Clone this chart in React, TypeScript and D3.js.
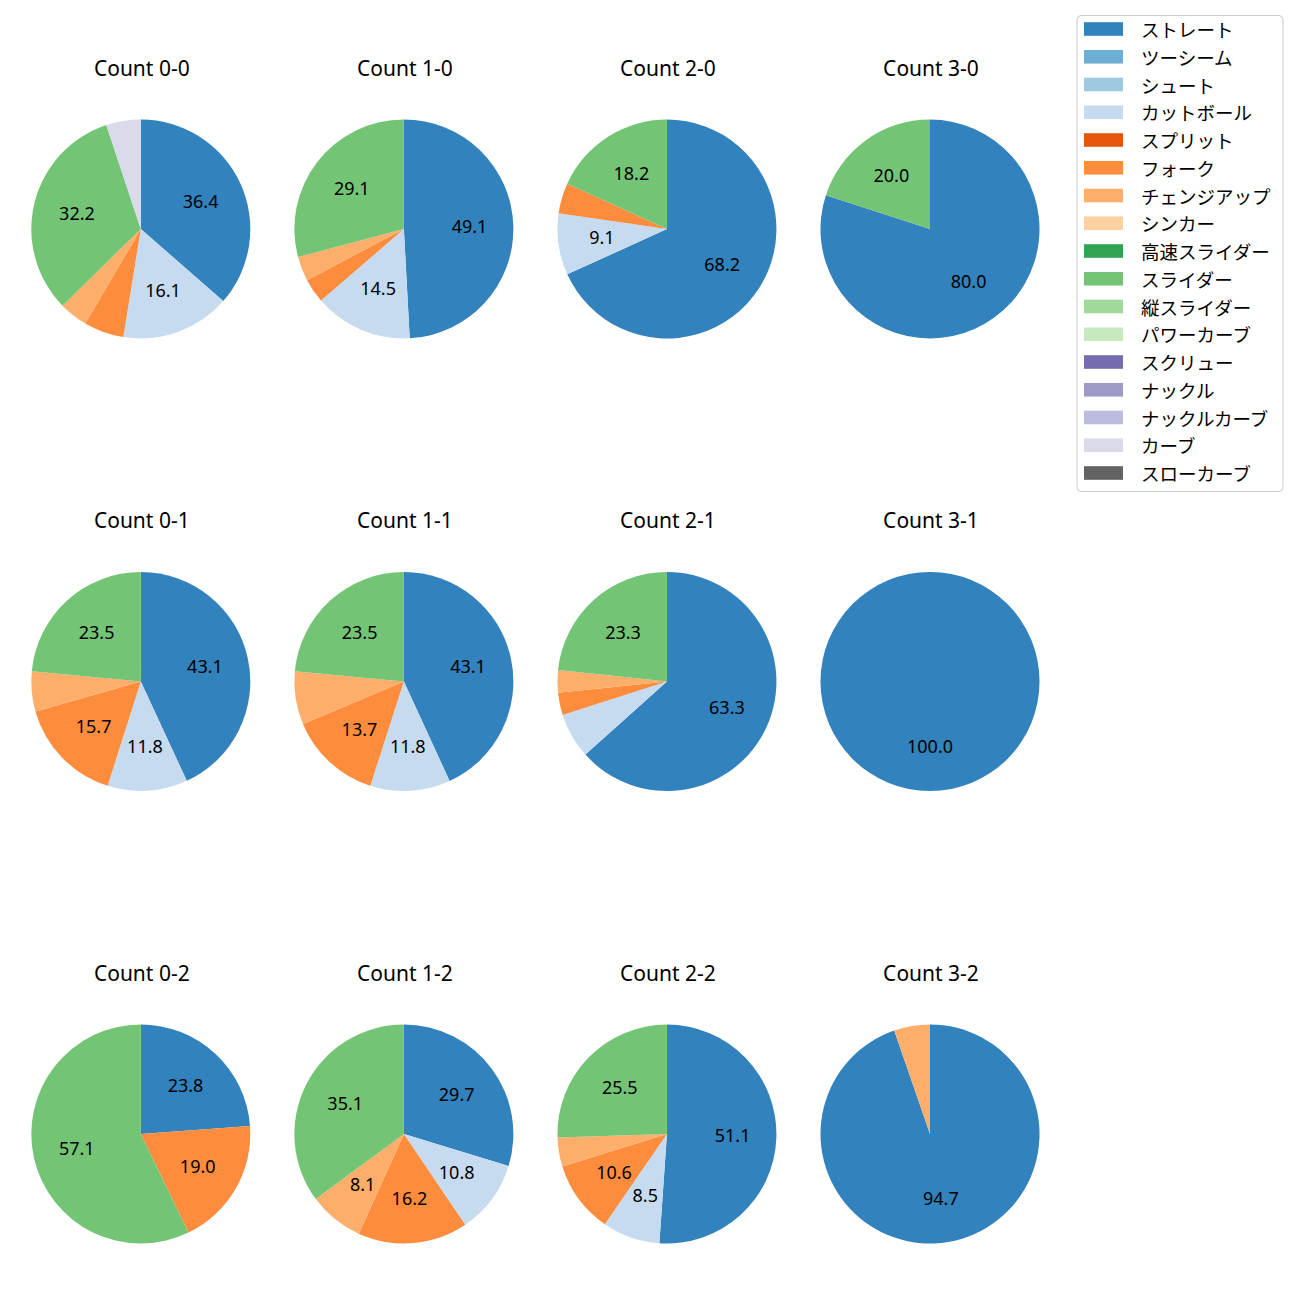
import React from "react";
import * as d3 from "d3";

const pitchTypes = [
  "ストレート", "ツーシーム", "シュート", "カットボール", "スプリット", "フォーク",
  "チェンジアップ", "シンカー", "高速スライダー", "スライダー", "縦スライダー",
  "パワーカーブ", "スクリュー", "ナックル", "ナックルカーブ", "カーブ", "スローカーブ",
];
const pitchColors = [
  "#3182bd", "#6baed6", "#9ecae1", "#c6dbef", "#e6550d", "#fd8d3c",
  "#fdae6b", "#fdd0a2", "#31a354", "#74c476", "#a1d99b",
  "#c7e9c0", "#756bb1", "#9e9ac8", "#bcbddc", "#dadaeb", "#636363",
];

const countLabels = [
  "Count 0-0", "Count 1-0", "Count 2-0", "Count 3-0",
  "Count 0-1", "Count 1-1", "Count 2-1", "Count 3-1",
  "Count 0-2", "Count 1-2", "Count 2-2", "Count 3-2",
];

// percentage per count (same order as countLabels)
const straight = [36.4, 49.1, 68.2, 80.0, 43.1, 43.1, 63.3, 100.0, 23.8, 29.7, 51.1, 94.7];
const cutter = [16.1, 14.5, 9.1, 0, 11.8, 11.8, 6.7, 0, 0, 10.8, 8.5, 0];
const forkball = [5.9, 3.6, 4.5, 0, 15.7, 13.7, 3.3, 0, 19.0, 16.2, 10.6, 0];
const changeup = [4.2, 3.6, 0, 0, 5.9, 7.8, 3.3, 0, 0, 8.1, 4.3, 5.3];
const slider = [32.2, 29.1, 18.2, 20.0, 23.5, 23.5, 23.3, 0, 57.1, 35.1, 25.5, 0];
const curve = [5.1, 0, 0, 0, 0, 0, 0, 0, 0, 0, 0, 0];

const seriesByPitch: { name: string; values: number[] }[] = [
  { name: "ストレート", values: straight },
  { name: "カットボール", values: cutter },
  { name: "フォーク", values: forkball },
  { name: "チェンジアップ", values: changeup },
  { name: "スライダー", values: slider },
  { name: "カーブ", values: curve },
];

const FONT_JP = "'Noto Sans CJK JP', 'Noto Sans', sans-serif";
const FONT_LATIN = "'Noto Sans', 'DejaVu Sans', sans-serif";

export default function App() {
  const W = 1300, H = 1300;
  const R = 109.5;
  const colX = d3.scaleLinear().domain([0, 3]).range([140.8, 930]);
  const rowY = d3.scaleLinear().domain([0, 2]).range([229, 1134]);
  const color = d3.scaleOrdinal<string, string>().domain(pitchTypes).range(pitchColors);
  const pie = d3.pie<{ name: string; v: number }>().sort(null).value((d) => d.v).startAngle(0).endAngle(2 * Math.PI);
  const arc = d3.arc<d3.PieArcDatum<{ name: string; v: number }>>().innerRadius(0).outerRadius(R);
  const labelArc = d3.arc<d3.PieArcDatum<{ name: string; v: number }>>().innerRadius(R * 0.6).outerRadius(R * 0.6);

  const legendY = d3.scaleLinear().domain([0, pitchTypes.length - 1]).range([29, 473]);

  return (
    <svg width={W} height={H} style={{ display: "block", position: "absolute", left: 0, top: 0 }}>
      <rect width={W} height={H} fill="#fff" />
      {countLabels.map((label, i) => {
        const col = i % 4, row = Math.floor(i / 4);
        const cx = colX(col), cy = rowY(row);
        const data = seriesByPitch.map((s) => ({ name: s.name, v: s.values[i] })).filter((d) => d.v > 0);
        const arcs = pie(data);
        return (
          <g key={label}>
            <text x={cx + 1} y={cy - 153.5} textAnchor="middle" fontSize={21} fontFamily={FONT_LATIN} fill="#000">{label}</text>
            <g transform={`translate(${cx},${cy})`}>
              {arcs.map((a) => (
                <path key={a.data.name} d={arc(a) || ""} fill={color(a.data.name)} />
              ))}
              {arcs.filter((a) => a.data.v >= 8).map((a) => {
                const [lx, ly] = labelArc.centroid(a);
                return (
                  <text key={a.data.name + "l"} x={lx} y={ly - 1} textAnchor="middle" dominantBaseline="central" fontSize={18} fontFamily={FONT_LATIN} fill="#000">
                    {a.data.v.toFixed(1)}
                  </text>
                );
              })}
            </g>
          </g>
        );
      })}
      <g>
        <rect x={1077} y={15.5} width={206} height={476} rx={4} fill="#fff" fillOpacity={0.8} stroke="#cccccc" strokeWidth={1} />
        {pitchTypes.map((p, i) => (
          <g key={p}>
            <rect x={1084} y={legendY(i) - 6.8} width={39} height={13.6} fill={color(p)} />
            <text x={1141} y={legendY(i)} dominantBaseline="central" fontSize={18.5} fontFamily={FONT_JP} fill="#000">{p}</text>
          </g>
        ))}
      </g>
    </svg>
  );
}
